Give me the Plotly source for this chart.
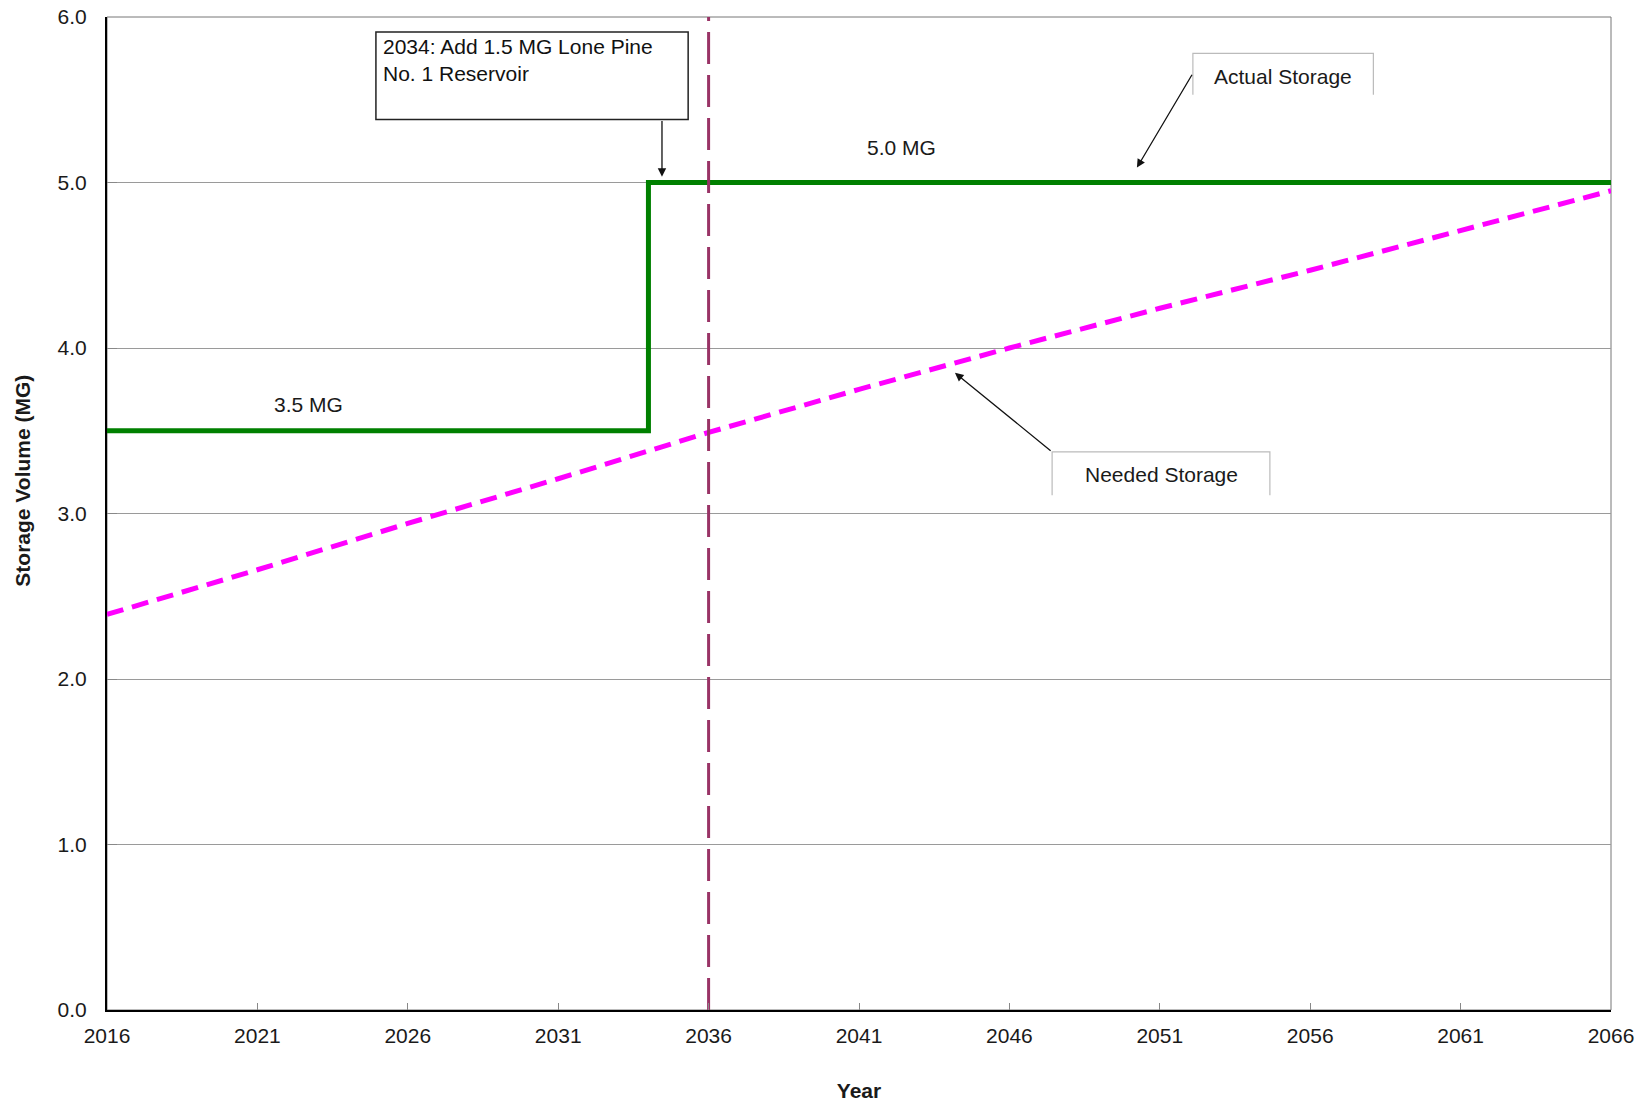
import plotly.graph_objects as go

# ---- data ----
years_needed = [2016, 2021, 2026, 2031, 2036, 2041, 2046, 2051, 2056, 2061, 2066]
needed_storage = [2.39, 2.66, 2.94, 3.21, 3.49, 3.75, 4.00, 4.24, 4.47, 4.71, 4.95]

years_actual = [2016, 2034, 2034, 2066]
actual_storage = [3.5, 3.5, 5.0, 5.0]

planning_year = 2036
x_ticks = [2016, 2021, 2026, 2031, 2036, 2041, 2046, 2051, 2056, 2061, 2066]

FONT = "Liberation Sans, Arial, sans-serif"
TXT = "#1a1a1a"
FS = 21

fig = go.Figure()
fig.add_trace(go.Scatter(
    x=years_needed, y=needed_storage, mode="lines",
    line=dict(color="#ff00ff", width=5, dash="17px,9px"),
    name="Needed Storage", hoverinfo="skip"))
fig.add_trace(go.Scatter(
    x=years_actual, y=actual_storage, mode="lines",
    line=dict(color="#008000", width=5),
    name="Actual Storage", hoverinfo="skip"))
fig.add_trace(go.Scatter(
    x=[planning_year, planning_year], y=[0, 6], mode="lines",
    line=dict(color="#993366", width=3, dash="32px,11px"),
    name="Planning Year", hoverinfo="skip"))

shapes = [
    dict(type="rect", xref="paper", yref="paper", x0=0, x1=1, y0=0, y1=1,
         line=dict(color="#777777", width=1), layer="below"),
    dict(type="rect", xref="x", yref="y", x0=2024.94, x1=2035.32, y0=5.38, y1=5.91,
         line=dict(color="#222222", width=1.5), fillcolor="white", layer="above"),
    dict(type="path", xref="x", yref="y",
         path="M 2052.1,5.53 L 2052.1,5.78 L 2058.1,5.78 L 2058.1,5.53",
         line=dict(color="#bbbbbb", width=1.2)),
    dict(type="path", xref="x", yref="y",
         path="M 2047.42,3.11 L 2047.42,3.372 L 2054.66,3.372 L 2054.66,3.11",
         line=dict(color="#bbbbbb", width=1.2)),
]

annotations = [
    dict(x=2025.1, y=5.905, xref="x", yref="y", xanchor="left", yanchor="top",
         align="left", showarrow=False,
         text="2034: Add 1.5 MG Lone Pine<br>No. 1 Reservoir",
         font=dict(family=FONT, size=FS, color="#111111")),
    dict(x=2034.45, y=5.035, ax=2034.45, ay=5.38, xref="x", yref="y",
         axref="x", ayref="y", text="", showarrow=True, arrowhead=2,
         arrowsize=1.3, arrowwidth=1.3, arrowcolor="#111111"),
    dict(x=2055.1, y=5.64, xref="x", yref="y", text="Actual Storage",
         showarrow=False, font=dict(family=FONT, size=FS, color=TXT)),
    dict(x=2050.24, y=5.09, ax=2052.1, ay=5.66, xref="x", yref="y",
         axref="x", ayref="y", text="", showarrow=True, arrowhead=2,
         arrowsize=1.3, arrowwidth=1.3, arrowcolor="#111111"),
    dict(x=2051.04, y=3.233, xref="x", yref="y", text="Needed Storage",
         showarrow=False, font=dict(family=FONT, size=FS, color=TXT)),
    dict(x=2044.19, y=3.85, ax=2047.42, ay=3.372, xref="x", yref="y",
         axref="x", ayref="y", text="", showarrow=True, arrowhead=2,
         arrowsize=1.3, arrowwidth=1.3, arrowcolor="#111111"),
    dict(x=2022.7, y=3.66, xref="x", yref="y", text="3.5 MG", showarrow=False,
         font=dict(family=FONT, size=FS, color=TXT)),
    dict(x=2042.4, y=5.21, xref="x", yref="y", text="5.0 MG", showarrow=False,
         font=dict(family=FONT, size=FS, color=TXT)),
    dict(x=-0.0559, y=0.533, xref="paper", yref="paper", xanchor="center", yanchor="middle",
         text="<b>Storage Volume (MG)</b>",
         textangle=-90, showarrow=False, font=dict(family=FONT, size=FS, color=TXT)),
]

fig.update_layout(
    width=1648, height=1107,
    margin=dict(l=107, r=37, t=17, b=97, autoexpand=False),
    paper_bgcolor="white", plot_bgcolor="white",
    showlegend=False,
    font=dict(family=FONT, size=FS, color=TXT),
    shapes=shapes,
    annotations=annotations,
    xaxis=dict(
        range=[2016, 2066], tickvals=x_ticks, ticktext=[str(v) for v in x_ticks],
        showgrid=False, zeroline=False,
        showline=True, linecolor="black", linewidth=2,
        ticks="inside", ticklen=7, tickcolor="#888888", tickwidth=1,
        ticklabelstandoff=6, ticklabeloverflow="allow", automargin=False,
        title=dict(text="<b>Year</b>", font=dict(family=FONT, size=FS, color=TXT), standoff=37),
        fixedrange=True,
    ),
    yaxis=dict(
        range=[0, 6], dtick=1, tickformat=".1f",
        showgrid=True, gridcolor="#9a9a9a", gridwidth=1, zeroline=False,
        showline=True, linecolor="black", linewidth=2,
        ticks="inside", ticklen=10, tickcolor="#888888", tickwidth=1,
        ticklabelstandoff=14, ticklabeloverflow="allow", automargin=False,
        fixedrange=True,
    ),
)

fig.write_html(
    "out.html",
    config={"displayModeBar": False, "staticPlot": True},
    post_script="document.body.style.margin='0';document.body.style.overflow='hidden';",
)
